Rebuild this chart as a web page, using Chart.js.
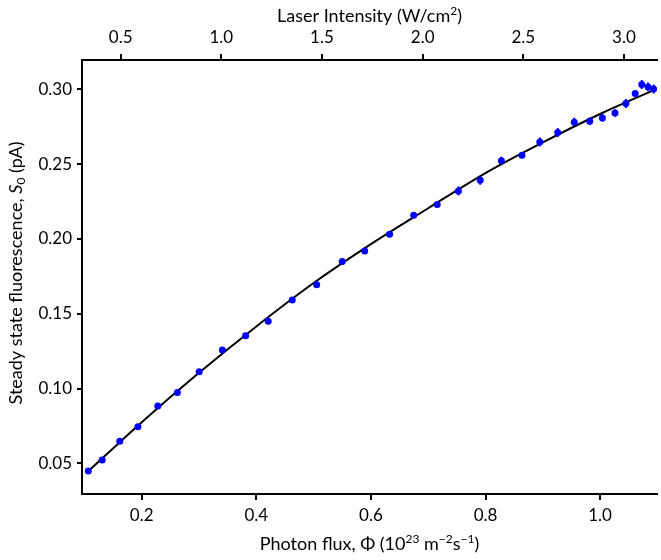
<!DOCTYPE html>
<html>
<head>
<meta charset="utf-8">
<script src="https://cdn.jsdelivr.net/npm/chart.js@4/dist/chart.umd.min.js"></script>
<style>
  html, body { margin: 0; padding: 0; background: #fff; overflow: hidden; }
  #wrap { width: 661px; height: 560px; }
</style>
</head>
<body>
<div id="wrap"><canvas id="graph"></canvas></div>
<script>
// measured points: photon flux (1e23 m^-2 s^-1) vs steady state fluorescence (pA)
var flux = [0.1068, 0.1310, 0.1617, 0.1934, 0.2281, 0.2622, 0.3003, 0.3407, 0.3813, 0.4208,
            0.4627, 0.5054, 0.5499, 0.5892, 0.6326, 0.6747, 0.7157, 0.7527, 0.7908, 0.8277,
            0.8636, 0.8948, 0.9260, 0.9549, 0.9819, 1.0040, 1.0260, 1.0450, 1.0612, 1.0727,
            1.0837, 1.0935];
var signal = [0.0449, 0.0522, 0.0647, 0.0744, 0.0883, 0.0974, 0.1112, 0.1257, 0.1352, 0.1449,
              0.1591, 0.1693, 0.1849, 0.1920, 0.2032, 0.2159, 0.2230, 0.2321, 0.2392, 0.2523,
              0.2559, 0.2648, 0.2711, 0.2780, 0.2787, 0.2809, 0.2842, 0.2905, 0.2972, 0.3032,
              0.3016, 0.3002];
var signalErr = [0.001, 0.001, 0.001, 0.001, 0.001, 0.001, 0.001, 0.001, 0.001, 0.001,
                 0.001, 0.001, 0.0015, 0.0015, 0.0015, 0.0015, 0.0015, 0.003, 0.003, 0.0027,
                 0.0015, 0.003, 0.003, 0.003, 0.0025, 0.0025, 0.0025, 0.003, 0.0015, 0.003,
                 0.003, 0.003];

// fitted curve
var fitFlux = [0.106, 0.2, 0.3, 0.4, 0.5, 0.6, 0.7, 0.8, 0.9, 1.0, 1.1];
var fitSignal = [0.0444, 0.0775, 0.1105, 0.1415, 0.1705, 0.1965, 0.2205, 0.2440, 0.2645, 0.2835, 0.3005];

// axis ticks
var fluxTicks = [0.2, 0.4, 0.6, 0.8, 1.0];
var intensityTicks = [0.5, 1.0, 1.5, 2.0, 2.5, 3.0];
var signalTicks = [0.05, 0.10, 0.15, 0.20, 0.25, 0.30];

// axis titles, split in pieces: 0 = normal, 1 = superscript, -1 = subscript, 2 = italic
var bottomTitle = [['Photon flux, Φ (10', 0], ['23', 1], [' m', 0], ['−2', 1], ['s', 0], ['−1', 1], [')', 0]];
var topTitle = [['Laser Intensity (W/cm', 0], ['2', 1], [')', 0]];
var leftTitle = [['Steady state fluorescence, ', 0], ['S', 2], ['0', -1], [' (pA)', 0]];

var fontFamily = 'Lato, "Noto Sans", sans-serif';

// vertical error bars for the measured points
var errorBars = {
    id: 'errorBars',
    beforeDatasetsDraw: function(chart) {
        var ctx = chart.ctx;
        var xs = chart.scales.x, ys = chart.scales.y;
        ctx.save();
        ctx.strokeStyle = '#0000ff';
        ctx.lineWidth = 2;
        for (var i = 0; i < flux.length; i++) {
            var px = xs.getPixelForValue(flux[i]);
            ctx.beginPath();
            ctx.moveTo(px, ys.getPixelForValue(signal[i] - signalErr[i]));
            ctx.lineTo(px, ys.getPixelForValue(signal[i] + signalErr[i]));
            ctx.stroke();
        }
        ctx.restore();
    }
};

// titles with super/subscripts
function pieceFont(kind) {
    if (kind === 1 || kind === -1) return '12px ' + fontFamily;
    if (kind === 2) return 'italic 18px ' + fontFamily;
    return '18px ' + fontFamily;
}
function drawRich(ctx, pieces, cx, cy, angle) {
    ctx.save();
    ctx.translate(cx, cy);
    ctx.rotate(angle);
    ctx.fillStyle = '#000';
    ctx.textBaseline = 'alphabetic';
    ctx.textAlign = 'left';
    var total = 0;
    pieces.forEach(function(p) { ctx.font = pieceFont(p[1]); total += ctx.measureText(p[0]).width; });
    var x = -total / 2;
    pieces.forEach(function(p) {
        ctx.font = pieceFont(p[1]);
        var dy = p[1] === 1 ? -7 : (p[1] === -1 ? 3 : 0);
        ctx.fillText(p[0], x, 6 + dy);
        x += ctx.measureText(p[0]).width;
    });
    ctx.restore();
}
var axisTitles = {
    id: 'axisTitles',
    afterDraw: function(chart) {
        var a = chart.chartArea;
        var cx = (a.left + a.right) / 2;
        drawRich(chart.ctx, topTitle, cx, 16, 0);
        drawRich(chart.ctx, bottomTitle, cx, 544, 0);
        drawRich(chart.ctx, leftTitle, 16, (a.top + a.bottom) / 2 - 4, -Math.PI / 2);
    }
};

function fixTicks(list) {
    return function(scale) {
        scale.ticks = list.map(function(v) { return {value: v}; });
    };
}

var ctx = document.getElementById('graph').getContext('2d');
var chart = new Chart(ctx, {
    type: 'scatter',
    data: {
        datasets: [{
            label: 'data',
            data: flux.map(function(x, i) { return {x: x, y: signal[i]}; }),
            backgroundColor: '#0000ff',
            borderColor: '#0000ff',
            pointRadius: 3.5,
            borderWidth: 0,
            order: 0
        }, {
            label: 'fit',
            type: 'line',
            data: fitFlux.map(function(x, i) { return {x: x, y: fitSignal[i]}; }),
            borderColor: '#000000',
            borderWidth: 2,
            pointRadius: 0,
            fill: false,
            cubicInterpolationMode: 'monotone',
            order: 1
        }]
    },
    options: {
        responsive: true,
        maintainAspectRatio: false,
        animation: false,
        layout: { padding: 0 },
        plugins: {
            legend: { display: false },
            tooltip: { enabled: false }
        },
        scales: {
            x: {
                type: 'linear',
                position: 'bottom',
                min: 0.0958,
                max: 1.0993,
                afterBuildTicks: fixTicks(fluxTicks),
                afterFit: function(s) { s.height = 66; },
                grid: { display: true, drawOnChartArea: false, tickLength: 6, color: '#000', lineWidth: 2 },
                border: { display: true, color: '#000', width: 2 },
                ticks: {
                    color: '#000', padding: 5, maxRotation: 0,
                    font: { family: fontFamily, size: 17 },
                    callback: function(v) { return v.toFixed(1); }
                }
            },
            x2: {
                type: 'linear',
                position: 'top',
                min: 0.308,
                max: 3.164,
                afterBuildTicks: fixTicks(intensityTicks),
                afterFit: function(s) { s.height = 60; },
                grid: { display: true, drawOnChartArea: false, tickLength: 6, color: '#000', lineWidth: 2 },
                border: { display: true, color: '#000', width: 2 },
                ticks: {
                    color: '#000', padding: 6, maxRotation: 0,
                    font: { family: fontFamily, size: 17 },
                    callback: function(v) { return v.toFixed(1); }
                }
            },
            y: {
                type: 'linear',
                position: 'left',
                min: 0.0295,
                max: 0.3196,
                afterBuildTicks: fixTicks(signalTicks),
                afterFit: function(s) { s.width = 82; },
                grid: { display: true, drawOnChartArea: false, tickLength: 5, color: '#000', lineWidth: 2 },
                border: { display: true, color: '#000', width: 2 },
                ticks: {
                    color: '#000', padding: 5,
                    font: { family: fontFamily, size: 17 },
                    callback: function(v) { return v.toFixed(2); }
                }
            }
        }
    },
    plugins: [errorBars, axisTitles]
});
</script>
</body>
</html>
